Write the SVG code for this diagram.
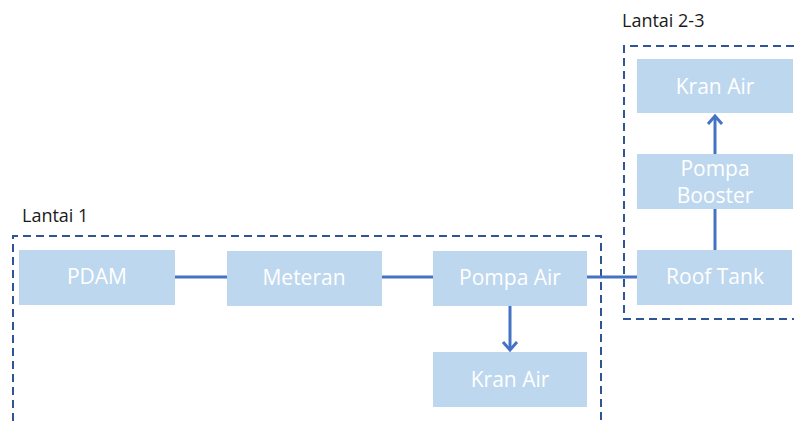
<svg xmlns="http://www.w3.org/2000/svg" width="794" height="421" viewBox="0 0 794 421">
<style>
.grp{fill:none;stroke:#2F5597;stroke-width:2;stroke-dasharray:8 5}
.box{fill:#BDD7EE}
.t{font-family:"Open Sans","Liberation Sans",sans-serif;font-size:21px;fill:#FFFFFF;text-anchor:middle}
.lbl{font-family:"Open Sans","Liberation Sans",sans-serif;font-size:18px;fill:#1a1a1a}
.c{fill:none;stroke:#4472C4;stroke-width:3}
</style>
<defs>
<marker id="ah" markerWidth="20" markerHeight="20" refX="10" refY="10" orient="auto" markerUnits="userSpaceOnUse">
<path d="M2,3 L10,10 L2,17" fill="none" stroke="#4472C4" stroke-width="3"/>
</marker>
</defs>
<g id="lantai1">
<path class="grp" d="M13,421 V236 H601 V421"/>
<text class="lbl" x="22" y="222">Lantai 1</text>
</g>
<g id="lantai23">
<path class="grp" d="M794,46 H624 V319 H794"/>
<text class="lbl" x="622" y="27">Lantai 2-3</text>
</g>
<g id="connectors">
<line class="c" x1="175" y1="277" x2="227" y2="277"/>
<line class="c" x1="382" y1="277" x2="433" y2="277"/>
<line class="c" x1="587" y1="277" x2="637" y2="277"/>
<line class="c" x1="510" y1="306" x2="510" y2="350" marker-end="url(#ah)"/>
<line class="c" x1="715" y1="250" x2="715" y2="209"/>
<line class="c" x1="715" y1="154" x2="715" y2="116" marker-end="url(#ah)"/>
</g>
<g id="pdam"><rect class="box" x="19" y="250" width="156" height="55"/><text class="t" x="97" y="284">PDAM</text></g>
<g id="meteran"><rect class="box" x="227" y="251" width="155" height="55"/><text class="t" x="304" y="285">Meteran</text></g>
<g id="pompa-air"><rect class="box" x="433" y="251" width="154" height="55"/><text class="t" x="510" y="285">Pompa Air</text></g>
<g id="kran-air-1"><rect class="box" x="433" y="352" width="154" height="55"/><text class="t" x="510" y="387">Kran Air</text></g>
<g id="roof-tank"><rect class="box" x="637" y="250" width="155" height="55"/><text class="t" x="715" y="284">Roof Tank</text></g>
<g id="pompa-booster"><rect class="box" x="637" y="154" width="156" height="55"/><text class="t" x="715" y="176">Pompa</text><text class="t" x="715" y="203">Booster</text></g>
<g id="kran-air-2"><rect class="box" x="637" y="59" width="156" height="54"/><text class="t" x="715" y="94">Kran Air</text></g>
</svg>
